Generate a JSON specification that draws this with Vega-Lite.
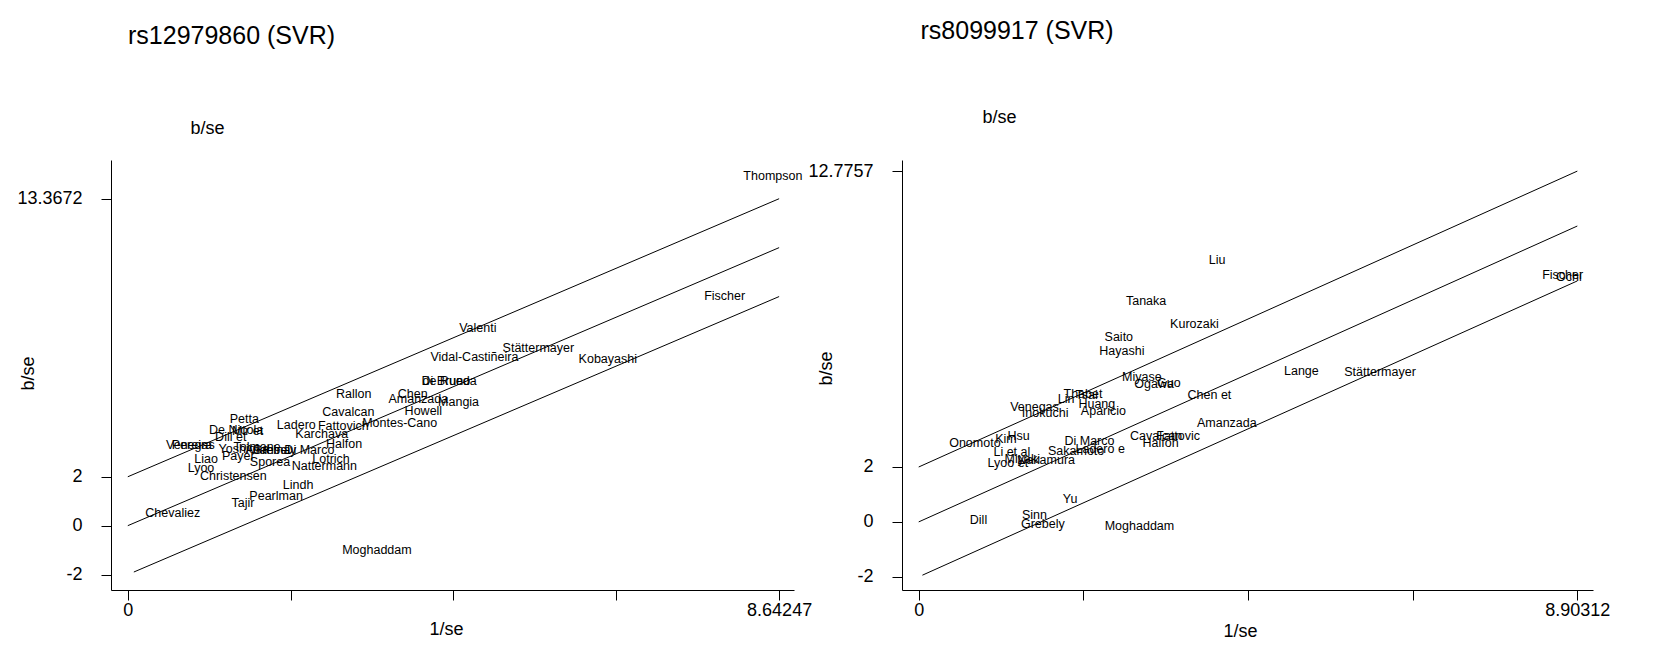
{
  "$schema": "https://vega.github.io/schema/vega-lite/v6.json",
  "background": "white",
  "autosize": {"type": "pad"},
  "padding": {"left": 16, "top": 19, "right": 5, "bottom": 5},
  "config": {
    "view": {"stroke": null},
    "font": "Liberation Sans",
    "axis": {
      "grid": false,
      "domainColor": "black",
      "tickColor": "black",
      "labelColor": "black",
      "titleColor": "black",
      "labelFontSize": 18,
      "titleFontSize": 18,
      "titleFontWeight": "normal",
      "tickSize": 10,
      "labelFlush": false,
      "labelOverlap": false
    },
    "title": {"fontSize": 25, "fontWeight": "normal", "color": "black", "anchor": "start", "frame": "group"}
  },
  "datasets": {
    "linesL": [
      {"line": "upper", "x": 0, "y": 2},
      {"line": "upper", "x": 8.64247, "y": 13.3672},
      {"line": "fit", "x": 0, "y": 0},
      {"line": "fit", "x": 8.64247, "y": 11.3672},
      {"line": "lower", "x": 0.08, "y": -1.895},
      {"line": "lower", "x": 8.64247, "y": 9.3672}
    ],
    "linesR": [
      {"line": "upper", "x": 0, "y": 2},
      {"line": "upper", "x": 8.90312, "y": 12.7757},
      {"line": "fit", "x": 0, "y": 0},
      {"line": "fit", "x": 8.90312, "y": 10.7757},
      {"line": "lower", "x": 0.05, "y": -1.94},
      {"line": "lower", "x": 8.90312, "y": 8.7757}
    ],
    "studiesL": [
      {"study": "Thompson", "x": 8.56, "y": 14.3},
      {"study": "Fischer", "x": 7.92, "y": 9.39},
      {"study": "Valenti", "x": 4.644, "y": 8.09},
      {"study": "Vidal-Castiñeira", "x": 4.599, "y": 6.91},
      {"study": "Stättermayer", "x": 5.448, "y": 7.27},
      {"study": "Kobayashi", "x": 6.369, "y": 6.82},
      {"study": "de Rueda", "x": 4.27, "y": 5.92},
      {"study": "Di Bruno", "x": 4.22, "y": 5.92},
      {"study": "Rallon", "x": 2.998, "y": 5.38},
      {"study": "Chen", "x": 3.781, "y": 5.37},
      {"study": "Amanzada", "x": 3.855, "y": 5.16},
      {"study": "Mangia", "x": 4.389, "y": 5.07},
      {"study": "Howell", "x": 3.922, "y": 4.69},
      {"study": "Cavalcan", "x": 2.927, "y": 4.66},
      {"study": "Montes-Cano", "x": 3.608, "y": 4.18},
      {"study": "Ladero", "x": 2.236, "y": 4.11},
      {"study": "Fattovich", "x": 2.86, "y": 4.07},
      {"study": "Karchava", "x": 2.573, "y": 3.73},
      {"study": "Halfon", "x": 2.869, "y": 3.32},
      {"study": "Di Marco", "x": 2.409, "y": 3.09},
      {"study": "Lotrich", "x": 2.697, "y": 2.72},
      {"study": "Nattermann", "x": 2.608, "y": 2.45},
      {"study": "Petta", "x": 1.546, "y": 4.35},
      {"study": "De Nicola", "x": 1.436, "y": 3.91},
      {"study": "Mir et", "x": 1.59, "y": 3.88},
      {"study": "Dill et", "x": 1.366, "y": 3.61},
      {"study": "Venegas", "x": 0.83, "y": 3.3},
      {"study": "Pereira", "x": 0.85, "y": 3.3},
      {"study": "Yoshioka", "x": 1.538, "y": 3.13},
      {"study": "Tolmane", "x": 1.715, "y": 3.23},
      {"study": "Asahina", "x": 1.857, "y": 3.09},
      {"study": "Grebely", "x": 1.944, "y": 3.09},
      {"study": "Payer", "x": 1.467, "y": 2.85},
      {"study": "Sporea", "x": 1.887, "y": 2.59},
      {"study": "Liao", "x": 1.038, "y": 2.72},
      {"study": "Lyoo", "x": 0.971, "y": 2.37},
      {"study": "Christensen", "x": 1.4, "y": 2.04},
      {"study": "Lindh", "x": 2.259, "y": 1.66},
      {"study": "Pearlman", "x": 1.968, "y": 1.21},
      {"study": "Tajir", "x": 1.529, "y": 0.94},
      {"study": "Chevaliez", "x": 0.596, "y": 0.5},
      {"study": "Moghaddam", "x": 3.306, "y": -0.98}
    ],
    "studiesR": [
      {"study": "Liu", "x": 4.034, "y": 9.53},
      {"study": "Tanaka", "x": 3.074, "y": 8.04},
      {"study": "Kurozaki", "x": 3.727, "y": 7.21},
      {"study": "Saito", "x": 2.705, "y": 6.75},
      {"study": "Hayashi", "x": 2.746, "y": 6.22},
      {"study": "Miyase", "x": 3.016, "y": 5.27},
      {"study": "Ogawa", "x": 3.182, "y": 5.02},
      {"study": "Guo", "x": 3.381, "y": 5.05},
      {"study": "Lange", "x": 5.173, "y": 5.51},
      {"study": "Stättermayer", "x": 6.236, "y": 5.45},
      {"study": "Chen  et", "x": 3.93, "y": 4.62},
      {"study": "Amanzada", "x": 4.165, "y": 3.62},
      {"study": "Cavalcan", "x": 3.209, "y": 3.14},
      {"study": "Fattovic", "x": 3.507, "y": 3.14},
      {"study": "Halfon", "x": 3.27, "y": 2.89},
      {"study": "Onomoto", "x": 0.759, "y": 2.89},
      {"study": "Kim", "x": 1.18, "y": 3.02},
      {"study": "Hsu", "x": 1.349, "y": 3.14},
      {"study": "Li et al", "x": 1.259, "y": 2.53},
      {"study": "Lyoo et", "x": 1.205, "y": 2.16},
      {"study": "Miyaki", "x": 1.4, "y": 2.28},
      {"study": "Nakamura", "x": 1.723, "y": 2.25},
      {"study": "Di Marco", "x": 2.308, "y": 2.96},
      {"study": "Sakamoto", "x": 2.128, "y": 2.57},
      {"study": "Ladero e", "x": 2.453, "y": 2.65},
      {"study": "Yu", "x": 2.047, "y": 0.83},
      {"study": "Dill", "x": 0.808, "y": 0.06},
      {"study": "Sinn", "x": 1.565, "y": 0.26},
      {"study": "Grebely", "x": 1.678, "y": -0.08},
      {"study": "Moghaddam", "x": 2.984, "y": -0.15},
      {"study": "Venegas", "x": 1.565, "y": 4.17},
      {"study": "Inokuchi", "x": 1.709, "y": 3.95},
      {"study": "Lin", "x": 1.993, "y": 4.48},
      {"study": "Thabet", "x": 2.22, "y": 4.66},
      {"study": "Tsai", "x": 2.27, "y": 4.62},
      {"study": "Huang", "x": 2.408, "y": 4.29},
      {"study": "Aparicio", "x": 2.497, "y": 4.05},
      {"study": "Fischer", "x": 8.705, "y": 9.0},
      {"study": "Ochi", "x": 8.79, "y": 8.92}
    ]
  },
  "spacing": 108,
  "bounds": "flush",
  "hconcat": [
    {
      "width": 683,
      "height": 430,
      "title": {"text": "rs12979860 (SVR)", "dx": 17, "offset": 70},
      "resolve": {"axis": {"y": "independent"}},
      "encoding": {
        "x": {
          "field": "x",
          "type": "quantitative",
          "scale": {"domain": [-0.223, 8.84], "nice": false, "zero": false},
          "axis": {
            "title": "1/se",
            "values": [0, 2.1606175, 4.321235, 6.4818525, 8.64247],
            "labelExpr": "datum.value == 0 || datum.value > 8 ? datum.value + '' : ''",
            "labelPadding": 1,
            "titleX": 335,
            "titleY": 39,
            "titleBaseline": "middle"
          }
        }
      },
      "layer": [
        {
          "data": {"name": "linesL"},
          "mark": {"type": "line", "color": "black", "strokeWidth": 1, "clip": false},
          "encoding": {
            "y": {
              "field": "y",
              "type": "quantitative",
              "scale": {"domain": [-2.63, 14.95], "nice": false, "zero": false},
              "axis": {
                "orient": "left",
                "title": "b/se",
                "labels": false,
                "ticks": false,
                "domain": false,
                "titleAngle": 0,
                "titleX": 96,
                "titleY": -32,
                "titleAlign": "center",
                "titleBaseline": "middle"
              }
            },
            "detail": {"field": "line", "type": "nominal"}
          }
        },
        {
          "data": {"name": "studiesL"},
          "mark": {"type": "text", "fontSize": 12.5, "baseline": "middle", "align": "center", "color": "black", "clip": false},
          "encoding": {
            "y": {
              "field": "y",
              "type": "quantitative",
              "scale": {"domain": [-2.63, 14.95], "nice": false, "zero": false},
              "axis": {
                "orient": "left",
                "title": "b/se",
                "values": [-2, 0, 2, 13.3672],
                "labelExpr": "datum.value + ''",
                "labelPadding": 19,
                "titleX": -83,
                "titleY": 213,
                "titleAngle": -90,
                "titleBaseline": "middle"
              }
            },
            "text": {"field": "study", "type": "nominal"}
          }
        }
      ]
    },
    {
      "width": 691,
      "height": 430,
      "title": {"text": "rs8099917 (SVR)", "dx": 18.5, "offset": 64},
      "resolve": {"axis": {"y": "independent"}},
      "encoding": {
        "x": {
          "field": "x",
          "type": "quantitative",
          "scale": {"domain": [-0.226, 9.115], "nice": false, "zero": false},
          "axis": {
            "title": "1/se",
            "values": [0, 2.22578, 4.45156, 6.67734, 8.90312],
            "labelExpr": "datum.value == 0 || datum.value > 8 ? datum.value + '' : ''",
            "labelPadding": 1,
            "titleX": 338,
            "titleY": 41,
            "titleBaseline": "middle"
          }
        }
      },
      "layer": [
        {
          "data": {"name": "linesR"},
          "mark": {"type": "line", "color": "black", "strokeWidth": 1, "clip": false},
          "encoding": {
            "y": {
              "field": "y",
              "type": "quantitative",
              "scale": {"domain": [-2.48, 13.18], "nice": false, "zero": false},
              "axis": {
                "orient": "left",
                "title": "b/se",
                "labels": false,
                "ticks": false,
                "domain": false,
                "titleAngle": 0,
                "titleX": 97,
                "titleY": -43,
                "titleAlign": "center",
                "titleBaseline": "middle"
              }
            },
            "detail": {"field": "line", "type": "nominal"}
          }
        },
        {
          "data": {"name": "studiesR"},
          "mark": {"type": "text", "fontSize": 12.5, "baseline": "middle", "align": "center", "color": "black", "clip": false},
          "encoding": {
            "y": {
              "field": "y",
              "type": "quantitative",
              "scale": {"domain": [-2.48, 13.18], "nice": false, "zero": false},
              "axis": {
                "orient": "left",
                "title": "b/se",
                "values": [-2, 0, 2, 12.7757],
                "labelExpr": "datum.value + ''",
                "labelPadding": 19,
                "titleX": -76,
                "titleY": 208,
                "titleAngle": -90,
                "titleBaseline": "middle"
              }
            },
            "text": {"field": "study", "type": "nominal"}
          }
        }
      ]
    }
  ]
}
